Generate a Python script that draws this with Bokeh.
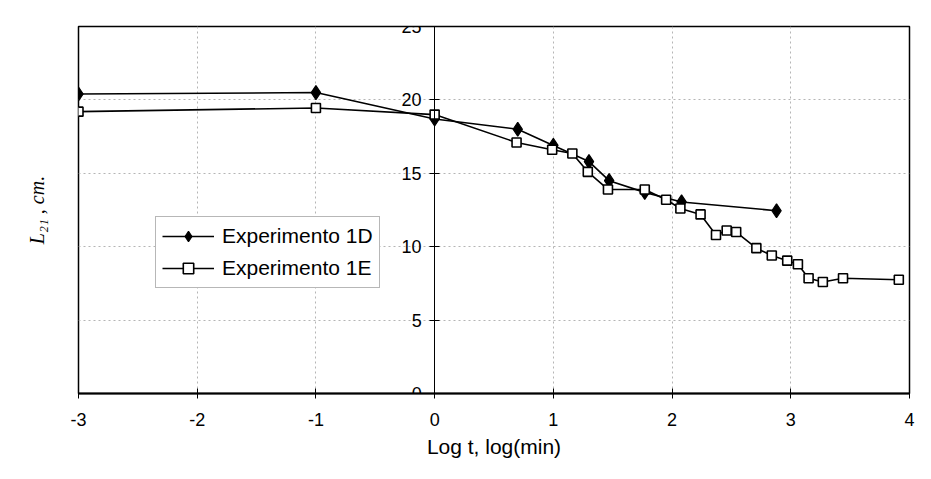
from bokeh.plotting import figure
from bokeh.models import LinearAxis, Legend, LegendItem, FixedTicker, Range1d, PrintfTickFormatter
from bokeh.embed import file_html
from bokeh.resources import INLINE

# Data
x_1d = [-3, -1, 0, 0.70, 1.00, 1.30, 1.47, 1.77, 2.08, 2.88]
y_1d = [20.4, 20.5, 18.7, 18.0, 16.9, 15.8, 14.5, 13.7, 13.05, 12.45]

x_1e = [-3, -1, 0, 0.69, 0.99, 1.16, 1.29, 1.46, 1.77, 1.95, 2.07, 2.24,
        2.37, 2.46, 2.54, 2.71, 2.84, 2.97, 3.06, 3.15, 3.27, 3.44, 3.91]
y_1e = [19.2, 19.45, 19.0, 17.1, 16.6, 16.35, 15.1, 13.9, 13.9, 13.2, 12.6, 12.2,
        10.8, 11.1, 11.0, 9.9, 9.4, 9.05, 8.8, 7.85, 7.6, 7.85, 7.75]

x_ticks = [-3, -2, -1, 0, 1, 2, 3, 4]
y_ticks = [0, 5, 10, 15, 20, 25]
x_grid = [-2, -1, 1, 2, 3]
y_grid = [5, 10, 15, 20]

FONT = "Liberation Sans"

p = figure(width=915, height=463, x_range=Range1d(-3, 4), y_range=Range1d(0, 25),
           output_backend="svg", toolbar_location=None,
           min_border_left=78, min_border_right=6, min_border_top=26, min_border_bottom=70)
p.background_fill_color = "white"
p.border_fill_color = "white"
p.outline_line_color = "black"
p.outline_line_width = 1.5

# Left axis: label only
ly = p.yaxis[0]
ly.ticker = FixedTicker(ticks=[])
ly.axis_line_color = None
ly.major_tick_line_color = None
ly.minor_tick_line_color = None
ly.axis_label = "L\u2082\u2081 , cm."
ly.axis_label_text_font = "Liberation Serif"
ly.axis_label_text_font_style = "italic"
ly.axis_label_text_font_size = "20px"
ly.axis_label_text_color = "black"
ly.axis_label_standoff = 31

# Y axis crossing at x = 0
yax = LinearAxis(fixed_location=0, ticker=FixedTicker(ticks=y_ticks),
                 formatter=PrintfTickFormatter(format="%d"))
yax.axis_line_color = "black"
yax.axis_line_width = 1
yax.major_tick_in = 5
yax.major_tick_out = 5
yax.major_tick_line_color = "black"
yax.minor_tick_line_color = None
yax.major_label_text_font = FONT
yax.major_label_text_font_size = "18px"
yax.major_label_text_color = "black"
yax.major_label_standoff = 8
p.add_layout(yax, "left")

# X axis
xa = p.xaxis[0]
xa.ticker = FixedTicker(ticks=x_ticks)
xa.formatter = PrintfTickFormatter(format="%d")
xa.axis_line_color = "black"
xa.axis_line_width = 2
xa.major_tick_in = 5
xa.major_tick_out = 5
xa.major_tick_line_color = "black"
xa.minor_tick_line_color = None
xa.major_label_text_font = FONT
xa.major_label_text_font_size = "18px"
xa.major_label_text_color = "black"
xa.major_label_standoff = 14
xa.axis_label = "Log t, log(min)"
xa.axis_label_text_font = FONT
xa.axis_label_text_font_style = "normal"
xa.axis_label_text_font_size = "21px"
xa.axis_label_text_color = "black"
xa.axis_label_standoff = 6

# Grid
p.xgrid.ticker = FixedTicker(ticks=x_grid)
p.ygrid.ticker = FixedTicker(ticks=y_grid)
for g in (p.xgrid[0], p.ygrid[0]):
    g.grid_line_color = "#b5b5b5"
    g.grid_line_dash = "2 3"
    g.grid_line_width = 1

# Series
l1 = p.line(x_1d, y_1d, line_color="black", line_width=1.6)
m1 = p.scatter(x_1d, y_1d, marker="diamond", size=14,
               fill_color="black", line_color="black", line_width=1.2)
l2 = p.line(x_1e, y_1e, line_color="black", line_width=1.6)
m2 = p.scatter(x_1e, y_1e, marker="square", size=9, fill_color="white",
               line_color="black", line_width=1.6)

legend = Legend(items=[LegendItem(label="Experimento 1D", renderers=[l1, m1]),
                       LegendItem(label="Experimento 1E", renderers=[l2, m2])],
                location=(77, 105))
legend.label_text_font = FONT
legend.label_text_font_size = "21px"
legend.label_text_color = "black"
legend.border_line_color = "#707070"
legend.border_line_width = 1
legend.background_fill_color = "white"
legend.background_fill_alpha = 1
legend.glyph_width = 52
legend.glyph_height = 26
legend.label_height = 26
legend.label_standoff = 8
legend.padding = 6
legend.spacing = 6
legend.margin = 0
p.add_layout(legend, "center")

open("out.html", "w").write(file_html(p, INLINE))
